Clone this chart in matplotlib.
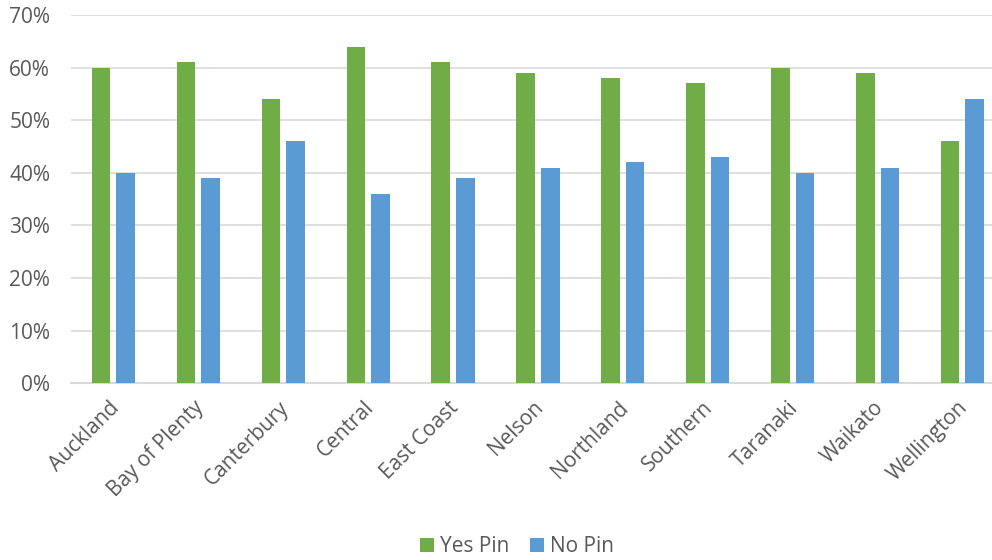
import matplotlib
matplotlib.use("Agg")
import matplotlib.pyplot as plt
import matplotlib.transforms as mtransforms
import numpy as np
from matplotlib.ticker import FuncFormatter

categories = ["Auckland", "Bay of Plenty", "Canterbury", "Central", "East Coast",
              "Nelson", "Northland", "Southern", "Taranaki", "Waikato", "Wellington"]
yes_pin = [60, 61, 54, 64, 61, 59, 58, 57, 60, 59, 46]
no_pin = [40, 39, 46, 36, 39, 41, 42, 43, 40, 41, 54]

plt.rcParams['font.family'] = ['Open Sans', 'DejaVu Sans']
W, H = 992, 560
fig = plt.figure(figsize=(W/100, H/100), dpi=100)
ax = fig.add_axes([71/W, 1-383.3/H, (992-71)/W, (383.3-15)/H])

x = np.arange(len(categories))
bw = 0.22
off = 0.145
ax.bar(x - off, yes_pin, bw, color="#70AD47", label="Yes Pin", zorder=3)
ax.bar(x + off, no_pin, bw, color="#5B9BD5", label="No Pin", zorder=3)

ax.set_xlim(-0.5, -0.5 + (992-71)/84.9)
ax.set_ylim(0, 70)
ax.set_yticks(range(0, 71, 10))
ax.yaxis.set_major_formatter(FuncFormatter(lambda v, p: f"{int(v)}%"))
ax.grid(axis='y', color="#D9D9D9", linewidth=1.2, zorder=0)
for s in ['top', 'right', 'left']:
    ax.spines[s].set_visible(False)
ax.spines['bottom'].set_color("#D9D9D9")
ax.spines['bottom'].set_linewidth(1.5)
ax.tick_params(axis='both', length=0, labelsize=15, labelcolor="#595959")
ax.tick_params(axis='y', pad=15)
ax.set_xticks(x)
ax.set_xticklabels(categories, rotation=45, ha='right', rotation_mode='anchor')
ax.tick_params(axis='x', pad=10)
shift = mtransforms.ScaledTranslation(-5/100, 0, fig.dpi_scale_trans)
for lbl in ax.get_xticklabels():
    lbl.set_transform(lbl.get_transform() + shift)

fig.legend(loc='center', bbox_to_anchor=(517/W, 1-547/H), ncol=2, frameon=False,
           fontsize=15, labelcolor="#595959", handlelength=0.65, handleheight=0.65,
           handletextpad=0.3, columnspacing=1.0)

fig.savefig("out.png", dpi=100)
